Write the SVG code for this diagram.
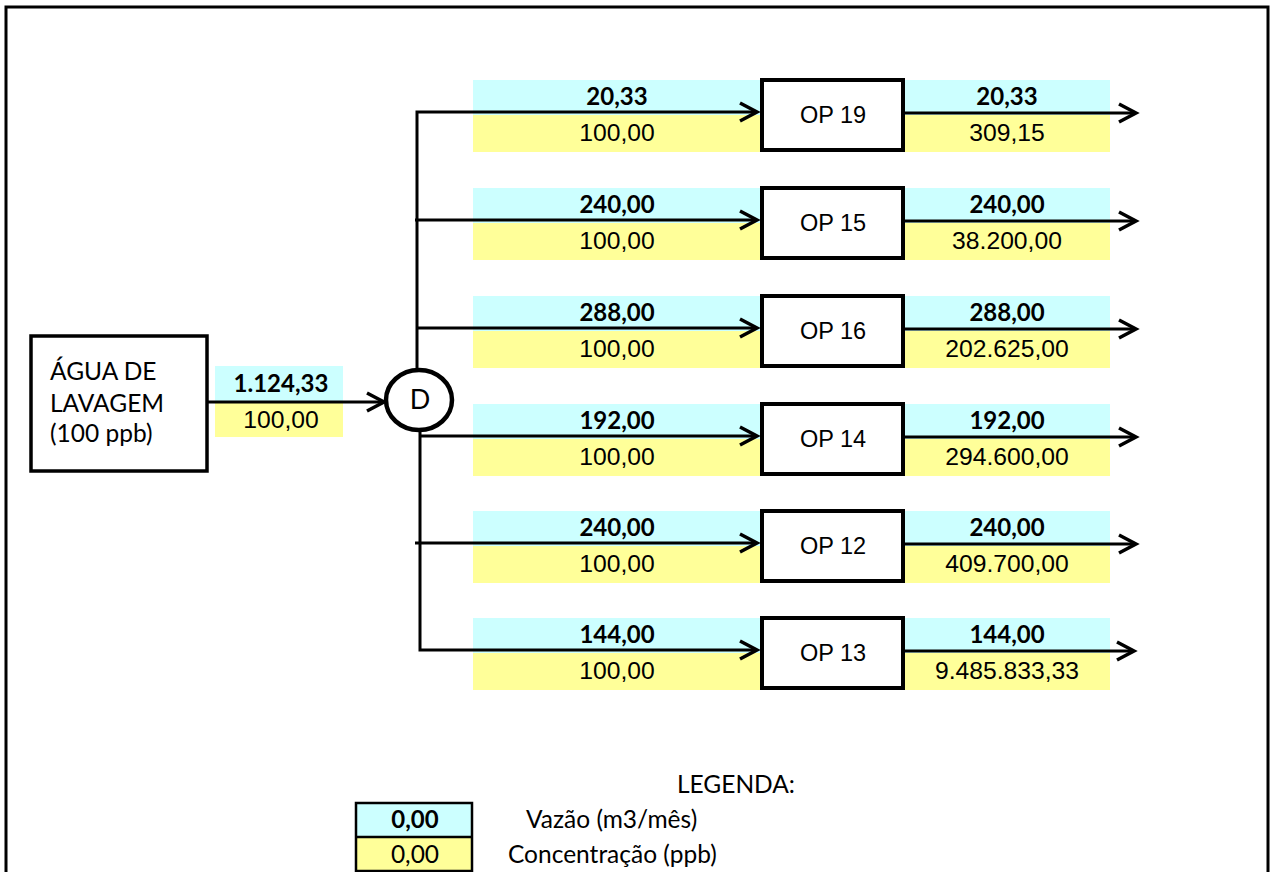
<svg xmlns="http://www.w3.org/2000/svg" width="1270" height="872" viewBox="0 0 1270 872">
<defs>
<style>
.cy{fill:#CCFFFF}
.ye{fill:#FFFF99}
.box{fill:#fff;stroke:#000;stroke-width:4}
.wire{stroke:#000;stroke-width:3;fill:none}
.num{font-family:"Liberation Sans",Arial,sans-serif;font-size:24.7px;text-anchor:middle;fill:#000}
.bn{font-family:Lato,"Open Sans",sans-serif;font-weight:bold;font-size:24px;text-anchor:middle;fill:#000}
.op{font-family:"Liberation Sans",Arial,sans-serif;font-size:23.5px;text-anchor:middle;fill:#000}
.cal{font-family:Lato,"Open Sans",sans-serif;font-size:24.5px;fill:#000}
</style>
<marker id="ah" markerUnits="userSpaceOnUse" markerWidth="24" markerHeight="24" viewBox="-20 -12 24 24" refX="0" refY="0" orient="auto" overflow="visible">
<path d="M-17,-9 L0,0 L-17,9" fill="none" stroke="#000" stroke-width="3.5"/>
</marker>
</defs>
<rect x="6" y="7" width="1262" height="900" fill="#fff" stroke="#000" stroke-width="3"/>

<!-- data bands -->
<g id="bands">
<rect class="cy" x="215" y="366" width="128" height="36"/>
<rect class="ye" x="215" y="402" width="128" height="35"/>
<g id="band-row1" transform="translate(0,0)">
<rect class="cy" x="473" y="80" width="287" height="35"/><rect class="ye" x="473" y="115" width="287" height="37"/>
<rect class="cy" x="905" y="80" width="205" height="35"/><rect class="ye" x="905" y="115" width="205" height="37"/>
</g>
<g id="band-row2" transform="translate(0,108)">
<rect class="cy" x="473" y="80" width="287" height="35"/><rect class="ye" x="473" y="115" width="287" height="37"/>
<rect class="cy" x="905" y="80" width="205" height="35"/><rect class="ye" x="905" y="115" width="205" height="37"/>
</g>
<g id="band-row3" transform="translate(0,216)">
<rect class="cy" x="473" y="80" width="287" height="35"/><rect class="ye" x="473" y="115" width="287" height="37"/>
<rect class="cy" x="905" y="80" width="205" height="35"/><rect class="ye" x="905" y="115" width="205" height="37"/>
</g>
<g id="band-row4" transform="translate(0,324)">
<rect class="cy" x="473" y="80" width="287" height="35"/><rect class="ye" x="473" y="115" width="287" height="37"/>
<rect class="cy" x="905" y="80" width="205" height="35"/><rect class="ye" x="905" y="115" width="205" height="37"/>
</g>
<g id="band-row5" transform="translate(0,431)">
<rect class="cy" x="473" y="80" width="287" height="35"/><rect class="ye" x="473" y="115" width="287" height="37"/>
<rect class="cy" x="905" y="80" width="205" height="35"/><rect class="ye" x="905" y="115" width="205" height="37"/>
</g>
<g id="band-row6" transform="translate(0,538)">
<rect class="cy" x="473" y="80" width="287" height="35"/><rect class="ye" x="473" y="115" width="287" height="37"/>
<rect class="cy" x="905" y="80" width="205" height="35"/><rect class="ye" x="905" y="115" width="205" height="37"/>
</g>
</g>

<!-- connectors -->
<g id="connectors">
<line class="wire" x1="207" y1="402" x2="384" y2="402" marker-end="url(#ah)"/>
<polyline class="wire" points="417,371 417,112 757,112" marker-end="url(#ah)"/>
<line class="wire" x1="415" y1="220" x2="757" y2="220" marker-end="url(#ah)"/>
<line class="wire" x1="417" y1="328" x2="757" y2="328" marker-end="url(#ah)"/>
<line class="wire" x1="420" y1="436" x2="757" y2="436" marker-end="url(#ah)"/>
<line class="wire" x1="415" y1="543" x2="757" y2="543" marker-end="url(#ah)"/>
<polyline class="wire" points="420,429 420,650 757,650" marker-end="url(#ah)"/>
<line class="wire" x1="897" y1="113" x2="1136" y2="113" marker-end="url(#ah)"/>
<line class="wire" x1="897" y1="221" x2="1136" y2="221" marker-end="url(#ah)"/>
<line class="wire" x1="897" y1="329" x2="1136" y2="329" marker-end="url(#ah)"/>
<line class="wire" x1="897" y1="437" x2="1136" y2="437" marker-end="url(#ah)"/>
<line class="wire" x1="897" y1="544" x2="1136" y2="544" marker-end="url(#ah)"/>
<line class="wire" x1="897" y1="651" x2="1134" y2="651" marker-end="url(#ah)"/>
</g>

<!-- values -->
<g id="values">
<text class="bn" x="281" y="392">1.124,33</text>
<text class="num" x="281" y="428">100,00</text>
<g transform="translate(0,0)"><text class="bn" x="617" y="105">20,33</text><text class="num" x="617" y="141">100,00</text><text class="bn" x="1007" y="105">20,33</text><text class="num" x="1007" y="141">309,15</text></g>
<g transform="translate(0,108)"><text class="bn" x="617" y="105">240,00</text><text class="num" x="617" y="141">100,00</text><text class="bn" x="1007" y="105">240,00</text><text class="num" x="1007" y="141">38.200,00</text></g>
<g transform="translate(0,216)"><text class="bn" x="617" y="105">288,00</text><text class="num" x="617" y="141">100,00</text><text class="bn" x="1007" y="105">288,00</text><text class="num" x="1007" y="141">202.625,00</text></g>
<g transform="translate(0,324)"><text class="bn" x="617" y="105">192,00</text><text class="num" x="617" y="141">100,00</text><text class="bn" x="1007" y="105">192,00</text><text class="num" x="1007" y="141">294.600,00</text></g>
<g transform="translate(0,431)"><text class="bn" x="617" y="105">240,00</text><text class="num" x="617" y="141">100,00</text><text class="bn" x="1007" y="105">240,00</text><text class="num" x="1007" y="141">409.700,00</text></g>
<g transform="translate(0,538)"><text class="bn" x="617" y="105">144,00</text><text class="num" x="617" y="141">100,00</text><text class="bn" x="1007" y="105">144,00</text><text class="num" x="1007" y="141">9.485.833,33</text></g>
</g>

<!-- nodes -->
<g id="source">
<rect x="31" y="336" width="176" height="135" fill="#fff" stroke="#000" stroke-width="3.5"/>
<text class="cal" x="50" y="380">ÁGUA DE</text>
<text class="cal" x="50" y="412">LAVAGEM</text>
<text class="cal" x="50" y="442">(100 ppb)</text>
</g>
<g id="divisor">
<ellipse cx="419" cy="400" rx="33" ry="30" fill="#fff" stroke="#000" stroke-width="4.5"/>
<text x="420" y="409" font-family="Lato,'Open Sans',sans-serif" font-size="27" text-anchor="middle">D</text>
</g>
<g id="op19" transform="translate(0,0)"><rect class="box" x="762" y="80" width="141" height="70"/><text class="op" x="833" y="123">OP 19</text></g>
<g id="op15" transform="translate(0,108)"><rect class="box" x="762" y="80" width="141" height="70"/><text class="op" x="833" y="123">OP 15</text></g>
<g id="op16" transform="translate(0,216)"><rect class="box" x="762" y="80" width="141" height="70"/><text class="op" x="833" y="123">OP 16</text></g>
<g id="op14" transform="translate(0,324)"><rect class="box" x="762" y="80" width="141" height="70"/><text class="op" x="833" y="123">OP 14</text></g>
<g id="op12" transform="translate(0,431)"><rect class="box" x="762" y="80" width="141" height="70"/><text class="op" x="833" y="123">OP 12</text></g>
<g id="op13" transform="translate(0,538)"><rect class="box" x="762" y="80" width="141" height="70"/><text class="op" x="833" y="123">OP 13</text></g>

<!-- legend -->
<g id="legend">
<text class="cal" x="677" y="793" font-size="23.5">LEGENDA:</text>
<rect class="cy" x="356" y="803" width="116" height="34"/>
<rect class="ye" x="356" y="837" width="116" height="34"/>
<rect x="356" y="803" width="116" height="68" fill="none" stroke="#000" stroke-width="2.5"/>
<line x1="356" y1="837" x2="472" y2="837" stroke="#000" stroke-width="2.5"/>
<text class="bn" x="415" y="828" font-size="22.5">0,00</text>
<text class="cal" x="415" y="863" font-size="23.5" text-anchor="middle">0,00</text>
<text class="cal" x="526" y="828" font-size="26.3">Vazão (m3/mês)</text>
<text class="cal" x="508" y="863" font-size="26.3">Concentração (ppb)</text>
</g>
</svg>
